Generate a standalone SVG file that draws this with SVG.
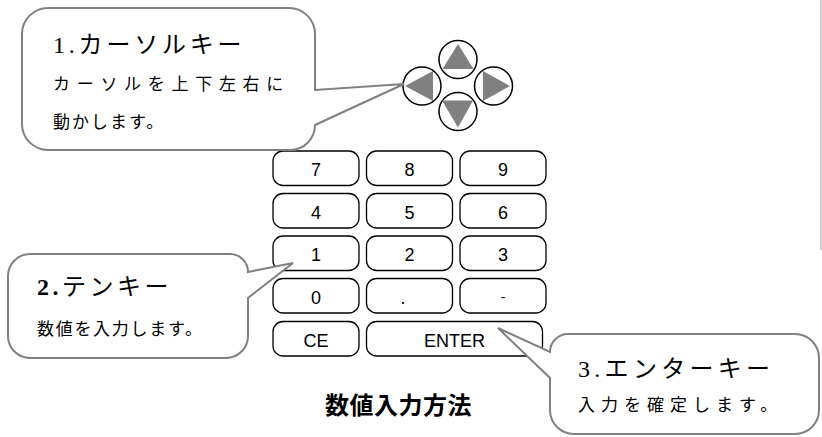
<svg xmlns="http://www.w3.org/2000/svg" width="822" height="437" viewBox="0 0 822 437">
<style>
.key{fill:#fff;stroke:#000;stroke-width:1.3}
.kl{font-family:"Liberation Sans","Noto Sans CJK JP",sans-serif;font-size:18px;fill:#000;text-anchor:middle}
.co{fill:#fff;stroke:#808080;stroke-width:2;stroke-linejoin:miter}
.h{font-family:"Liberation Serif","Noto Sans CJK JP",serif;font-size:24px;fill:#000}
.b{font-family:"Liberation Serif","Noto Sans CJK JP",serif;font-size:17px;fill:#000}
.cir{fill:#fff;stroke:#000;stroke-width:1.5}
.tri{fill:#808080}
.title{font-family:"Noto Sans CJK JP",sans-serif;font-size:24px;font-weight:bold;fill:#000}
</style>
<line x1="821" y1="0" x2="821" y2="250" stroke="#a0a0a0" stroke-width="1"/>
<g id="cursor-keys">
<circle class="cir" cx="458" cy="59.5" r="19"/>
<polygon class="tri" points="458,44 442.5,69 473.5,69"/>
<circle class="cir" cx="422" cy="86" r="19"/>
<polygon class="tri" points="405,86 433,71 433,101"/>
<circle class="cir" cx="493.5" cy="86" r="19"/>
<polygon class="tri" points="510,86 483,71 483,101"/>
<circle class="cir" cx="458" cy="111.5" r="19"/>
<polygon class="tri" points="458,127.5 442,100.5 473,100.5"/>
</g>
<g id="keypad">
<g id="key-7"><rect class="key" x="273" y="151" width="86" height="34.5" rx="10"/><text class="kl" x="316" y="176">7</text></g>
<g id="key-8"><rect class="key" x="366.5" y="151" width="86" height="34.5" rx="10"/><text class="kl" x="409.5" y="176">8</text></g>
<g id="key-9"><rect class="key" x="460" y="151" width="86" height="34.5" rx="10"/><text class="kl" x="503" y="176">9</text></g>
<g id="key-4"><rect class="key" x="273" y="193.5" width="86" height="34.5" rx="10"/><text class="kl" x="316" y="219">4</text></g>
<g id="key-5"><rect class="key" x="366.5" y="193.5" width="86" height="34.5" rx="10"/><text class="kl" x="409.5" y="219">5</text></g>
<g id="key-6"><rect class="key" x="460" y="193.5" width="86" height="34.5" rx="10"/><text class="kl" x="503" y="219">6</text></g>
<g id="key-1"><rect class="key" x="273" y="236" width="86" height="34.5" rx="10"/><text class="kl" x="316" y="261">1</text></g>
<g id="key-2"><rect class="key" x="366.5" y="236" width="86" height="34.5" rx="10"/><text class="kl" x="409.5" y="261">2</text></g>
<g id="key-3"><rect class="key" x="460" y="236" width="86" height="34.5" rx="10"/><text class="kl" x="503" y="261">3</text></g>
<g id="key-0"><rect class="key" x="273" y="278.5" width="86" height="34.5" rx="10"/><text class="kl" x="316" y="304">0</text></g>
<g id="key-dot"><rect class="key" x="366.5" y="278.5" width="86" height="34.5" rx="10"/><text class="kl" x="403" y="304">.</text></g>
<g id="key-minus"><rect class="key" x="460" y="278.5" width="86" height="34.5" rx="10"/><text class="kl" x="503" y="302" style="font-size:14px">-</text></g>
<g id="key-ce"><rect class="key" x="273" y="321.5" width="86" height="34.5" rx="10"/><text class="kl" x="316" y="346.5">CE</text></g>
<g id="key-enter"><rect class="key" x="366.5" y="321.5" width="176" height="34.5" rx="10"/><text class="kl" x="454.5" y="346.5">ENTER</text></g>
</g>
<g id="title"><text class="title" x="325" y="414" letter-spacing="0.5">数値入力方法</text></g>
<g id="callout-1">
<path class="co" d="M48,8 H289 A26,26 0 0 1 315,34 V90 L404,84 L315,125 A25,25 0 0 1 290,150 H48 A26,26 0 0 1 22,124 V34 A26,26 0 0 1 48,8 Z"/>
<text class="h" x="53" y="53" letter-spacing="3.8">1.カーソルキー</text>
<text class="b" x="53" y="90" letter-spacing="6.7">カーソルを上下左右に</text>
<text class="b" x="53" y="128" letter-spacing="2">動かします。</text>
</g>
<g id="callout-2">
<path class="co" d="M30,254 H230 A18,18 0 0 1 248,272 L293,263 L248,298 V336 A22,22 0 0 1 226,358 H30 A22,22 0 0 1 8,336 V276 A22,22 0 0 1 30,254 Z"/>
<text class="h" x="37" y="295" letter-spacing="3.5"><tspan font-weight="bold">2.</tspan>テンキー</text>
<text class="b" x="37" y="335" letter-spacing="1.7">数値を入力します。</text>
</g>
<g id="callout-3">
<path class="co" d="M550,378 V410 A24,24 0 0 0 574,434 H795 A24,24 0 0 0 819,410 V358 A24,24 0 0 0 795,334 H568 A18,18 0 0 0 550,352 L498,328 Z"/>
<text class="h" x="578" y="377" letter-spacing="4.3">3.エンターキー</text>
<text class="b" x="578" y="411" letter-spacing="6">入力を確定します。</text>
</g>
</svg>
